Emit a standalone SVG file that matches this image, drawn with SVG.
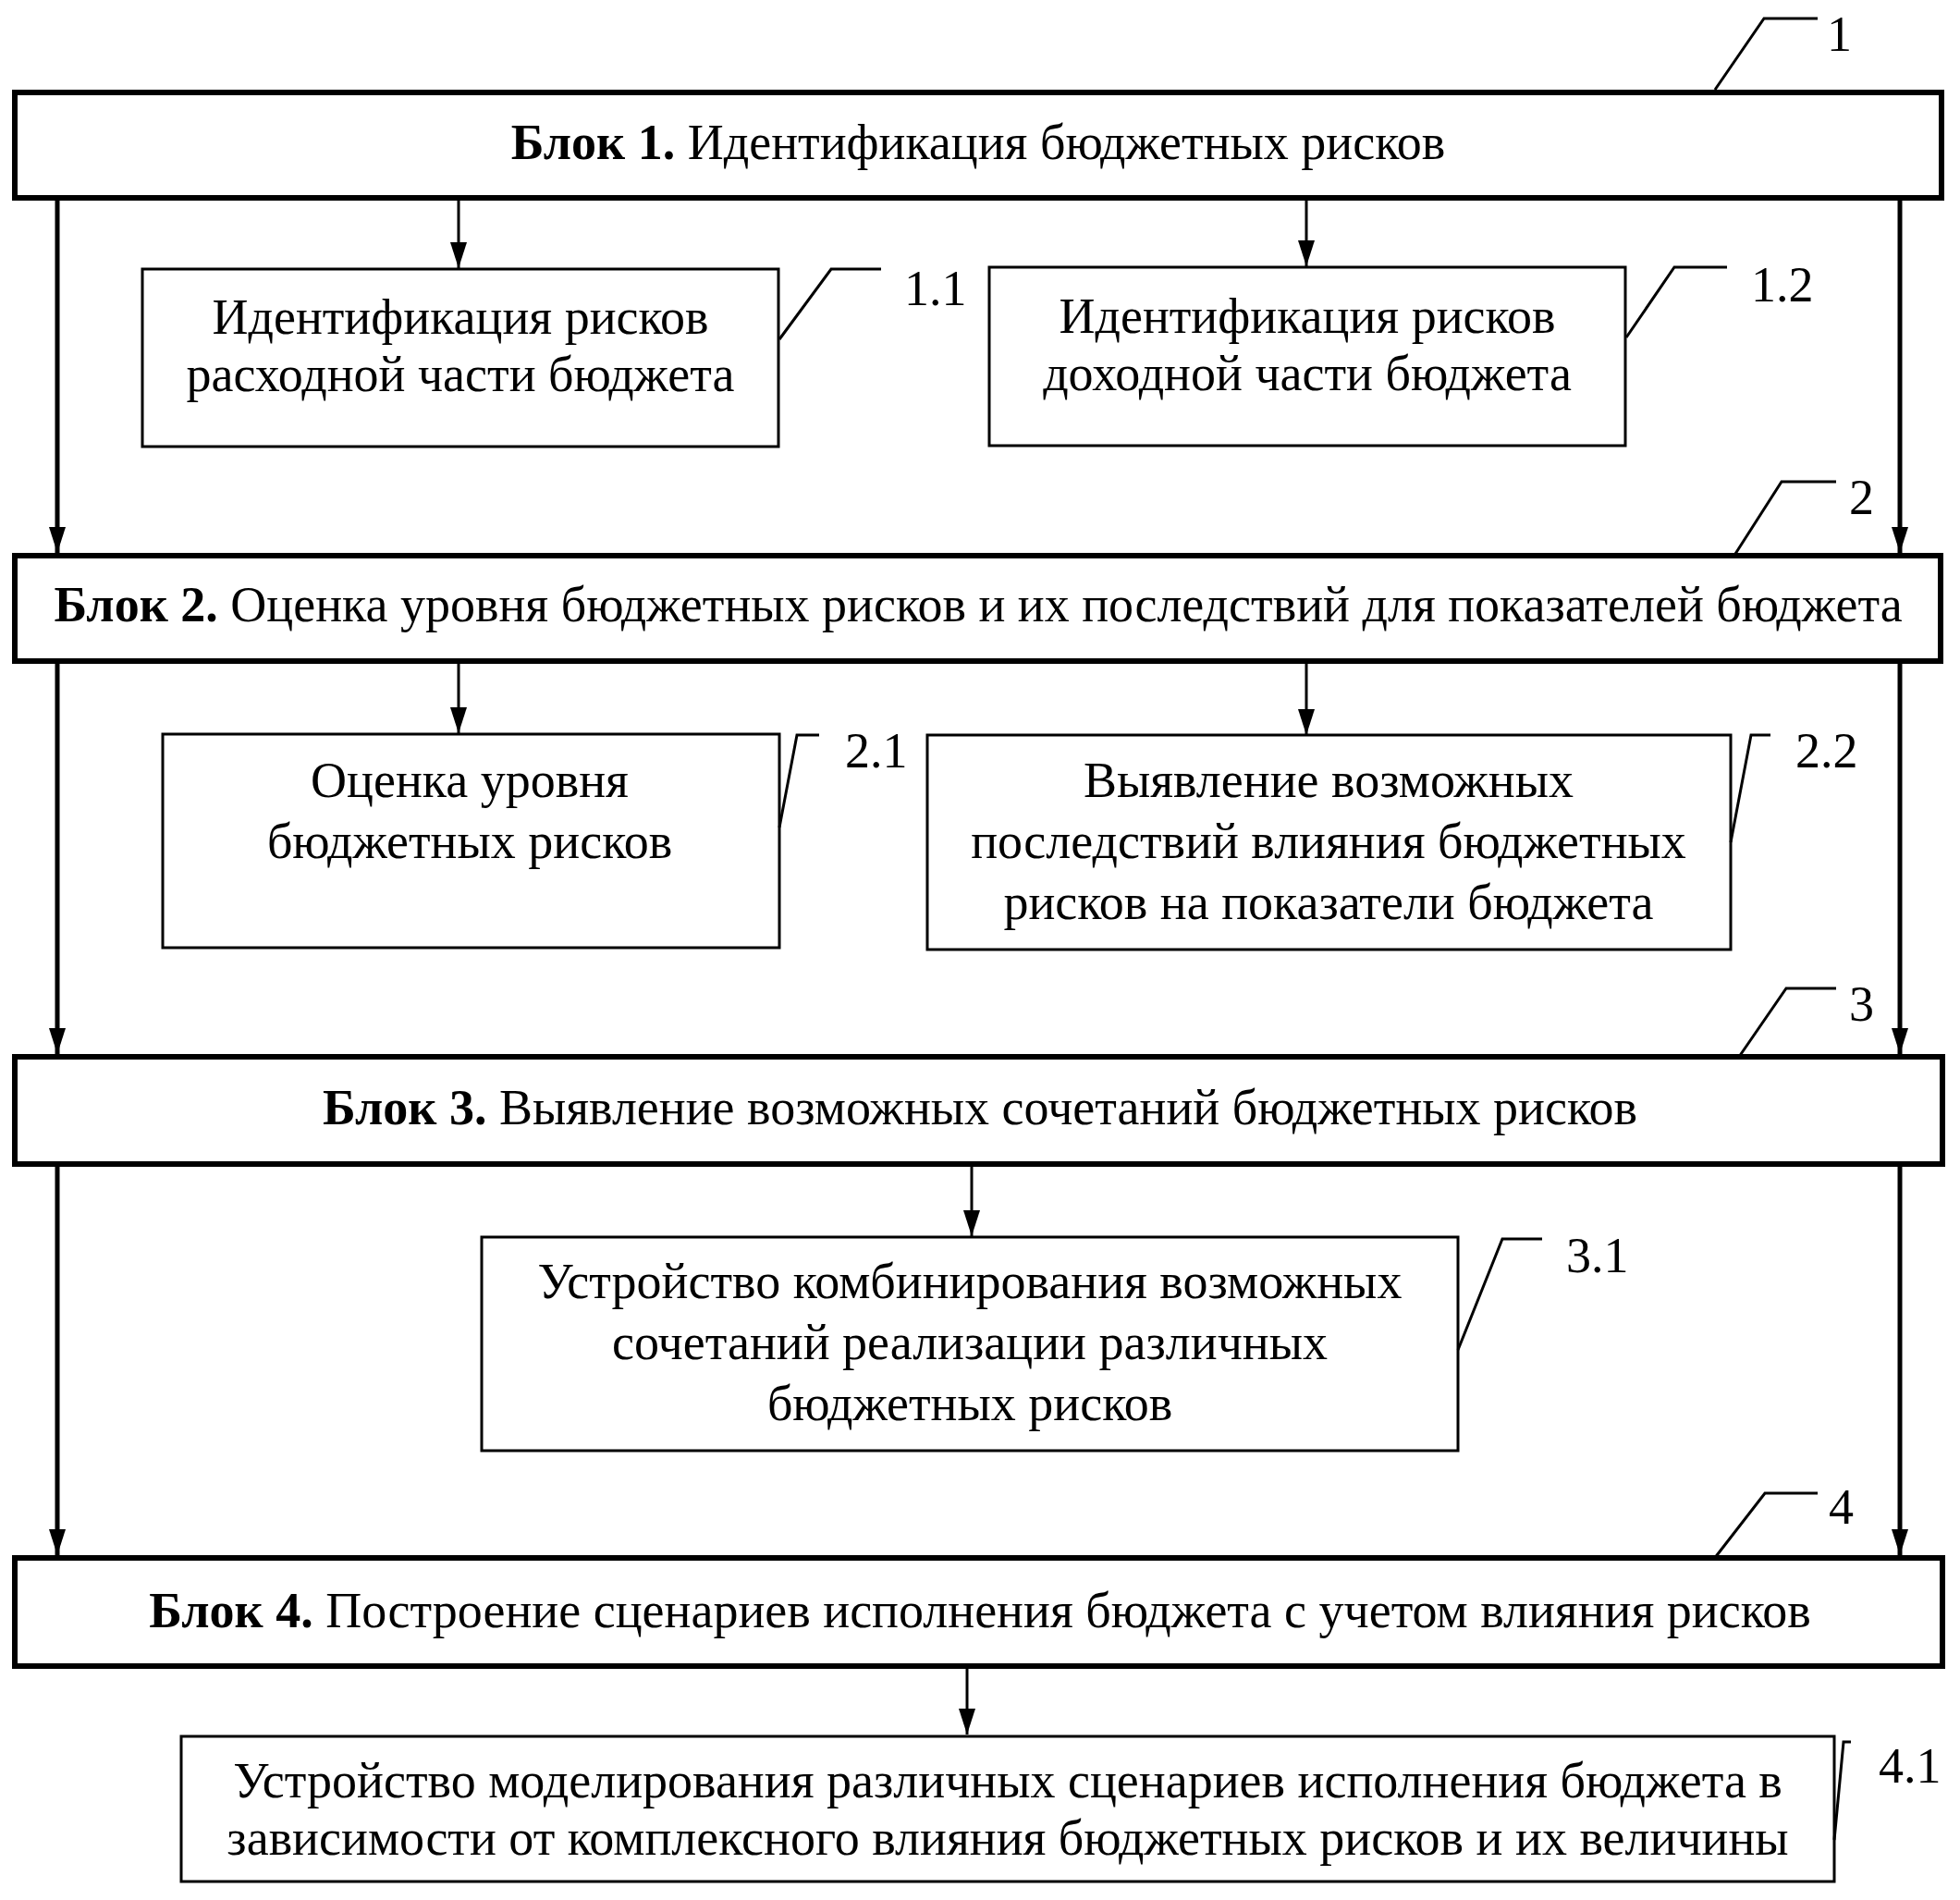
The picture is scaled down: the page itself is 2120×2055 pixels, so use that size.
<svg xmlns="http://www.w3.org/2000/svg" width="2120" height="2055" viewBox="0 0 2120 2055">
<style>
  text { font-family: "Liberation Serif", "Times New Roman", serif; font-size: 54px; fill: #000; }
  .c { text-anchor: middle; }
  .b { font-weight: bold; }
  .blk { fill: #fff; stroke: #000; stroke-width: 6; }
  .sub { fill: #fff; stroke: #000; stroke-width: 3; }
  .main { stroke: #000; stroke-width: 5; fill: none; }
  .thin { stroke: #000; stroke-width: 3; fill: none; }
  .lead { stroke: #000; stroke-width: 3; fill: none; }
</style>
<defs>
  <marker id="ah" viewBox="0 0 28 18" refX="28" refY="9" markerWidth="28" markerHeight="18" markerUnits="userSpaceOnUse" orient="auto">
    <path d="M0,0 L28,9 L0,18 Z" fill="#000"/>
  </marker>
</defs>
<rect x="0" y="0" width="2120" height="2055" fill="#fff"/>

<g id="connectors">
  <line class="main" x1="62" y1="214" x2="62" y2="598" marker-end="url(#ah)"/>
  <line class="main" x1="62" y1="716" x2="62" y2="1140" marker-end="url(#ah)"/>
  <line class="main" x1="62" y1="1258" x2="62" y2="1682" marker-end="url(#ah)"/>
  <line class="main" x1="2055" y1="214" x2="2055" y2="598" marker-end="url(#ah)"/>
  <line class="main" x1="2055" y1="716" x2="2055" y2="1140" marker-end="url(#ah)"/>
  <line class="main" x1="2055" y1="1258" x2="2055" y2="1682" marker-end="url(#ah)"/>
  <line class="thin" x1="496" y1="214" x2="496" y2="290" marker-end="url(#ah)"/>
  <line class="thin" x1="1413" y1="214" x2="1413" y2="288" marker-end="url(#ah)"/>
  <line class="thin" x1="496" y1="716" x2="496" y2="793" marker-end="url(#ah)"/>
  <line class="thin" x1="1413" y1="716" x2="1413" y2="795" marker-end="url(#ah)"/>
  <line class="thin" x1="1051" y1="1258" x2="1051" y2="1337" marker-end="url(#ah)"/>
  <line class="thin" x1="1046" y1="1802" x2="1046" y2="1876" marker-end="url(#ah)"/>
</g>

<g id="block1">
  <rect class="blk" x="16" y="100" width="2084" height="114"/>
  <text class="c" x="1058" y="172"><tspan class="b">Блок 1.</tspan> Идентификация бюджетных рисков</text>
  <polyline class="lead" points="1855,97 1908,20 1966,20"/>
  <text x="1976" y="55">1</text>
</g>

<g id="block1_1">
  <rect class="sub" x="154" y="291" width="688" height="192"/>
  <text class="c" x="498" y="361">Идентификация рисков</text>
  <text class="c" x="498" y="423">расходной части бюджета</text>
  <polyline class="lead" points="843,367 899,291 953,291"/>
  <text x="978" y="330">1.1</text>
</g>

<g id="block1_2">
  <rect class="sub" x="1070" y="289" width="688" height="193"/>
  <text class="c" x="1414" y="360">Идентификация рисков</text>
  <text class="c" x="1414" y="422">доходной части бюджета</text>
  <polyline class="lead" points="1759,365 1811,289 1868,289"/>
  <text x="1894" y="326">1.2</text>
</g>

<g id="block2">
  <rect class="blk" x="16" y="601" width="2083" height="114"/>
  <text class="c" x="1058" y="672"><tspan class="b">Блок 2.</tspan> Оценка уровня бюджетных рисков и их последствий для показателей бюджета</text>
  <polyline class="lead" points="1877,599 1927,521 1986,521"/>
  <text x="2000" y="556">2</text>
</g>

<g id="block2_1">
  <rect class="sub" x="176" y="794" width="667" height="231"/>
  <text class="c" x="508" y="862">Оценка уровня</text>
  <text class="c" x="508" y="928">бюджетных рисков</text>
  <polyline class="lead" points="843,895 862,795 886,795"/>
  <text x="914" y="830">2.1</text>
</g>

<g id="block2_2">
  <rect class="sub" x="1003" y="795" width="869" height="232"/>
  <text class="c" x="1437" y="862">Выявление возможных</text>
  <text class="c" x="1437" y="928">последствий влияния бюджетных</text>
  <text class="c" x="1437" y="994">рисков на показатели бюджета</text>
  <polyline class="lead" points="1872,911 1894,795 1915,795"/>
  <text x="1942" y="830">2.2</text>
</g>

<g id="block3">
  <rect class="blk" x="16" y="1143" width="2085" height="116"/>
  <text class="c" x="1060" y="1216"><tspan class="b">Блок 3.</tspan> Выявление возможных сочетаний бюджетных рисков</text>
  <polyline class="lead" points="1881,1143 1932,1069 1986,1069"/>
  <text x="2000" y="1104">3</text>
</g>

<g id="block3_1">
  <rect class="sub" x="521" y="1338" width="1056" height="231"/>
  <text class="c" x="1049" y="1404">Устройство комбинирования возможных</text>
  <text class="c" x="1049" y="1470">сочетаний реализации различных</text>
  <text class="c" x="1049" y="1536">бюджетных рисков</text>
  <polyline class="lead" points="1577,1460 1625,1340 1668,1340"/>
  <text x="1694" y="1376">3.1</text>
</g>

<g id="block4">
  <rect class="blk" x="16" y="1685" width="2085" height="117"/>
  <text class="c" x="1060" y="1760"><tspan class="b">Блок 4.</tspan> Построение сценариев исполнения бюджета с учетом влияния рисков</text>
  <polyline class="lead" points="1854,1686 1909,1615 1966,1615"/>
  <text x="1978" y="1648">4</text>
</g>

<g id="block4_1">
  <rect class="sub" x="196" y="1878" width="1788" height="157"/>
  <text class="c" x="1090" y="1944">Устройство моделирования различных сценариев исполнения бюджета в</text>
  <text class="c" x="1090" y="2006">зависимости от комплексного влияния бюджетных рисков и их величины</text>
  <polyline class="lead" points="1984,1990 1994,1884 2002,1884"/>
  <text x="2032" y="1928">4.1</text>
</g>
</svg>
